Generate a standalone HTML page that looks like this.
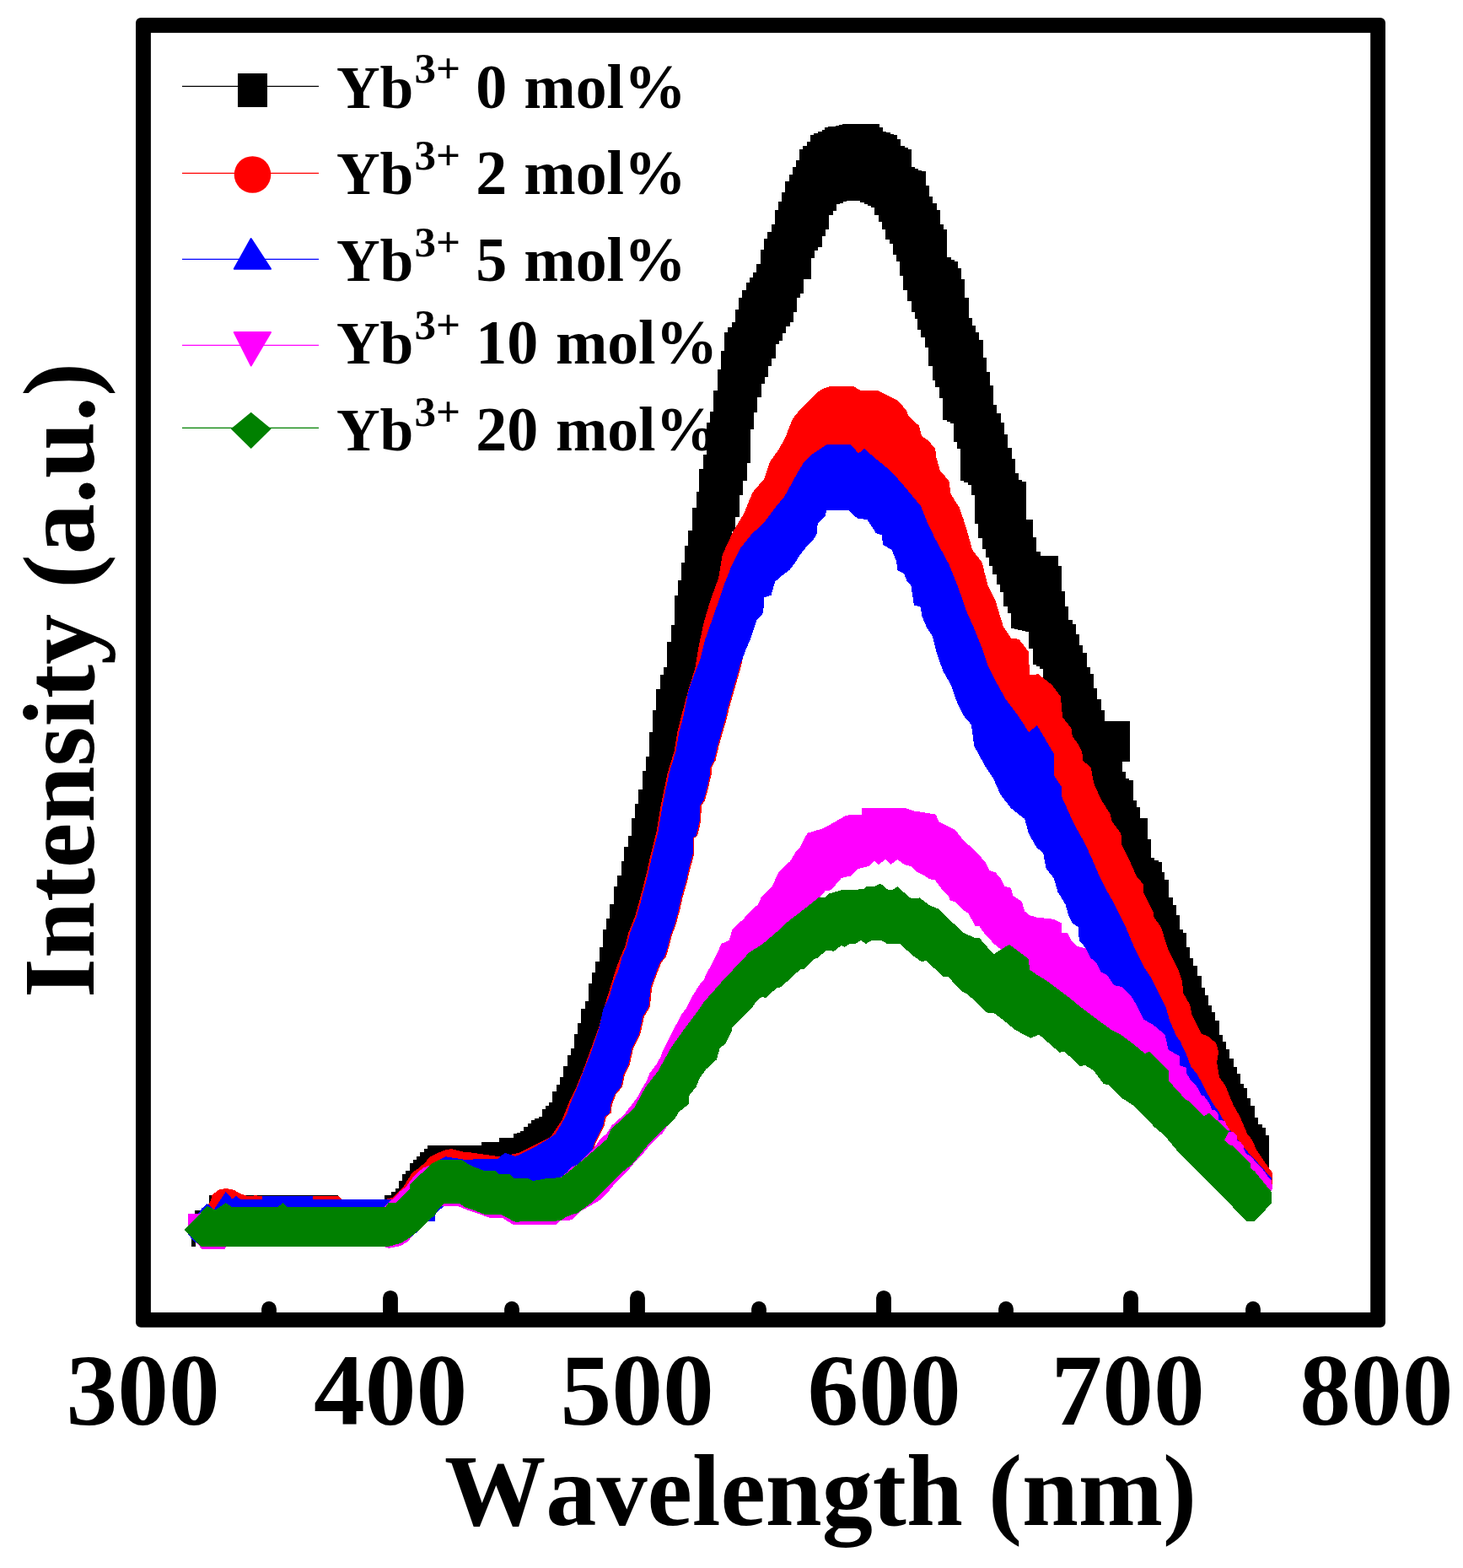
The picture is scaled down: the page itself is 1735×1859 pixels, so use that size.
<!DOCTYPE html>
<html><head><meta charset="utf-8">
<style>
html,body{margin:0;padding:0;background:#fff;}
svg{display:block;}
text{font-family:"Liberation Serif","Times New Roman",serif;font-weight:bold;fill:#000;font-kerning:none;font-feature-settings:"kern" 0;}
</style></head>
<body>
<svg width="1735" height="1859" viewBox="0 0 1735 1859">
<rect x="0" y="0" width="1735" height="1859" fill="#fff"/>
<!-- frame -->
<rect x="161" y="21" width="1482" height="1552.8" rx="6" fill="#000"/>
<rect x="178.9" y="38.9" width="1446.3" height="1517.1" fill="#fff"/>
<g id="curves" shape-rendering="crispEdges">
<path fill="#000000" d="M227,1478 L227,1445 L231,1445 L231,1435 L248,1435 L248,1417.3 L401.4,1417.3 L401.4,1424 L455.9,1424 L456.1,1417.3 L464.4,1417.3 L464.4,1413.1 L469,1413.1 L469,1409 L473.2,1409 L473.2,1400.2 L477.1,1400.2 L477.1,1391.9 L481.3,1391.9 L481.3,1387.9 L486.2,1387.9 L486.2,1379.2 L490.1,1379.2 L490.1,1375.1 L494,1375.1 L494,1370.9 L498.1,1370.9 L498.1,1365.9 L503,1365.9 L503,1362 L507.1,1362 L507.1,1358.2 L570.9,1358.2 L570.9,1354 L592,1354 L592,1349.1 L609.1,1349.1 L609.1,1345 L609.1,1343.8 L613.1,1343.8 L613.1,1342.6 L617.1,1342.6 L617.1,1341.4 L621.1,1341.4 L621.1,1336.3 L625.7,1336.3 L625.7,1332.1 L629.8,1332.1 L629.8,1328 L634.4,1328 L634.4,1326 L638.7,1326 L638.7,1324.1 L643,1324.1 L643,1314.8 L647.1,1314.8 L647.1,1311.4 L650.6,1311.4 L650.6,1306.8 L655.2,1306.8 L655.2,1294.1 L659.8,1294.1 L659.8,1286 L663.9,1286 L663.9,1276.8 L667.9,1276.8 L667.9,1264.1 L672.5,1264.1 L672.5,1251.4 L677.1,1251.4 L677.1,1243.4 L681,1243.4 L681,1226.1 L685.2,1226.1 L685.2,1212.7 L689.3,1212.7 L689.3,1196.1 L693.9,1196.1 L693.9,1186.9 L697.8,1186.9 L697.8,1166.1 L702.4,1166.1 L702.4,1153.4 L706.1,1153.4 L706.1,1139.9 L711.4,1139.9 L711.4,1123 L715.2,1123 L715.2,1102.1 L719.1,1102.1 L719.1,1088.9 L723.4,1088.9 L723.4,1072.1 L728.2,1072.1 L728.2,1051.2 L732.3,1051.2 L732.3,1038.2 L736.5,1038.2 L736.5,1020.8 L740.4,1020.8 L740.4,1003.9 L745.3,1003.9 L745.3,991.1 L749.1,991.1 L749.1,970 L753,970 L753,953 L757.3,953 L757.3,936.1 L762.3,936.1 L762.3,914.3 L766.2,914.3 L766.2,897.2 L770.4,897.2 L770.4,868.2 L774.3,868.2 L774.3,842.2 L778.2,842.2 L778.2,816.5 L783,816.5 L783,800 L787.3,800 L787.3,791.2 L791.1,791.2 L791.1,761.2 L795.7,761.2 L795.7,740.5 L800.3,740.5 L800.3,705.9 L804.2,705.9 L804.2,687.5 L808.4,687.5 L808.4,666.7 L812.3,666.7 L812.3,647.1 L816.4,647.1 L816.4,628.7 L821,628.7 L821,602.2 L825.6,602.2 L825.6,582.6 L829.1,582.6 L829.1,556 L833.7,556 L833.7,538.8 L838.3,538.8 L838.3,501.2 L842.2,501.2 L842.2,488 L846.4,488 L846.4,463.1 L851,463.1 L851,437.8 L854.6,437.8 L854.6,415.9 L858.9,415.9 L858.9,394 L863.1,394 L863.1,388.2 L867.5,388.2 L867.5,382.4 L871.9,382.4 L871.9,367.4 L876,367.4 L876,352.5 L880,352.5 L880,343.9 L884.6,343.9 L884.6,335.2 L889.2,335.2 L889.2,328.9 L893.2,328.9 L893.2,322.5 L897.3,322.5 L897.3,313.3 L901.9,313.3 L901.9,296 L906,296 L906,283.3 L910.4,283.3 L910.4,274.6 L914.8,274.6 L914.8,266 L919.2,266 L919.2,249.2 L923.3,249.2 L923.3,238.6 L927.2,238.6 L927.2,228 L931.2,228 L931.2,215.3 L936,215.3 L936,207.2 L939.9,207.2 L939.9,198 L944,198 L944,190.4 L948,190.4 L948,177.3 L952.1,177.3 L952.1,173.1 L957.2,173.1 L957.2,168 L961.1,168 L961.1,160 L965.3,160 L965.3,157.9 L969.9,157.9 L969.9,155.8 L974.5,155.8 L974.5,153.5 L978.3,153.5 L978.3,151.2 L982.1,151.2 L982.1,150.4 L986.3,150.4 L986.3,149.6 L990.6,149.6 L990.6,148.9 L994.8,148.9 L994.8,148.1 L999.1,148.1 L999.1,147.3 L1003.3,147.3 L1037.9,147.3 L1043,147.3 L1043,151.2 L1047,151.2 L1047,155.8 L1051.3,155.8 L1051.3,157.2 L1055.5,157.2 L1055.5,158.6 L1059.8,158.6 L1059.8,160 L1064,160 L1064,164.6 L1067.9,164.6 L1067.9,173.1 L1072.5,173.1 L1072.5,175.2 L1077.1,175.2 L1077.1,177.3 L1080.5,177.3 L1080.5,198 L1084.6,198 L1084.6,199.8 L1088.7,199.8 L1088.7,201.5 L1092.8,201.5 L1092.8,203.3 L1097.8,203.3 L1097.8,220 L1101.8,220 L1101.8,232.6 L1105.9,232.6 L1105.9,241.1 L1110.5,241.1 L1110.5,249.2 L1114.7,249.2 L1114.7,266 L1118.8,266 L1118.8,271.8 L1123.2,271.8 L1123.2,279.2 L1123.2,305.2 L1127.5,305.2 L1127.5,307.5 L1131.7,307.5 L1131.7,309.8 L1135.9,309.8 L1135.9,317.9 L1139.8,317.9 L1139.8,330.6 L1143.9,330.6 L1143.9,352.5 L1148.6,352.5 L1148.6,377.1 L1153.2,377.1 L1153.2,385.9 L1157.1,385.9 L1157.1,394 L1161.2,394 L1161.2,403.2 L1165.8,403.2 L1165.8,423.9 L1169.8,423.9 L1169.8,441.2 L1173.9,441.2 L1173.9,457.4 L1177.8,457.4 L1177.8,479.7 L1182.2,479.7 L1182.2,490.4 L1186.6,490.4 L1186.6,501.2 L1190.6,501.2 L1190.6,514.6 L1194.5,514.6 L1194.5,530.7 L1199.6,530.7 L1199.6,544.1 L1203.7,544.1 L1203.7,561.1 L1207.7,561.1 L1207.7,569.2 L1212.3,569.2 L1212.3,571.2 L1216.9,571.2 L1216.9,573.3 L1216.9,616 L1225,616 L1225,637.2 L1229.1,637.2 L1229.1,654 L1233.7,654 L1233.7,659.1 L1251,659.1 L1254.9,659.1 L1254.9,671.3 L1259.1,671.3 L1259.1,680.5 L1259.1,701.3 L1263,701.3 L1263,718.6 L1267.1,718.6 L1267.1,735.2 L1271.8,735.2 L1271.8,740 L1276.4,740 L1276.4,752 L1280.3,752 L1280.3,765.4 L1284.4,765.4 L1284.4,773.9 L1289,773.9 L1289,791.2 L1293,791.2 L1293,799.3 L1297.1,799.3 L1297.1,816.1 L1301,816.1 L1301,829.3 L1305.7,829.3 L1305.7,841.9 L1309.8,841.9 L1309.8,854.6 L1339.8,854.6 L1339.8,903 L1330.5,903 L1330.5,914.6 L1334.7,914.6 L1334.7,923 L1339.3,923 L1339.3,925.1 L1343.9,925.1 L1343.9,927.2 L1343.9,949.1 L1347.8,949.1 L1347.8,957.2 L1352,957.2 L1352,969.9 L1360.5,969.9 L1360.5,995.2 L1364.7,995.2 L1364.7,1017.1 L1369.2,1017.1 L1369.2,1019.5 L1373.7,1019.5 L1373.7,1021.8 L1377.8,1021.8 L1377.8,1034.4 L1381.3,1034.4 L1381.3,1042.5 L1385.9,1042.5 L1385.9,1064.4 L1390.5,1064.4 L1390.5,1072.5 L1394.6,1072.5 L1394.6,1085.2 L1399,1085.2 L1399,1102 L1402.7,1102 L1402.7,1105.9 L1407.3,1105.9 L1407.3,1123.2 L1411.2,1123.2 L1411.2,1135.9 L1415.4,1135.9 L1415.4,1145.1 L1420,1145.1 L1420,1156.6 L1424.6,1156.6 L1424.6,1170.5 L1428.5,1170.5 L1428.5,1179.7 L1433.1,1179.7 L1433.1,1192.4 L1437.1,1192.4 L1437.1,1200.4 L1441.1,1200.4 L1441.1,1209.5 L1446.1,1209.5 L1446.1,1226.7 L1450.1,1226.7 L1450.1,1234.7 L1454.2,1234.7 L1454.2,1243.8 L1458.2,1243.8 L1458.2,1254.9 L1463.3,1254.9 L1463.3,1265 L1467.3,1265 L1467.3,1273.1 L1471.3,1273.1 L1471.3,1285.2 L1475.4,1285.2 L1475.4,1290.2 L1479.4,1290.2 L1479.4,1302.3 L1483.4,1302.3 L1483.4,1311.4 L1487.5,1311.4 L1487.5,1324.5 L1491.5,1324.5 L1491.5,1332.6 L1496.5,1332.6 L1496.5,1336.6 L1500.6,1336.6 L1500.6,1345.7 L1504.6,1345.7 L1504.6,1354.8 L1504.6,1382 L1504.6,1386 L1500.6,1386 L1500.6,1388 L1497.1,1388 L1497.1,1390 L1493.5,1390 L1493.5,1392 L1490,1392 L1486,1392 L1486,1387.6 L1482,1387.6 L1482,1383.2 L1478,1383.2 L1478,1378.8 L1474,1378.8 L1474,1374.4 L1470,1374.4 L1470,1370 L1465.4,1370 L1465.4,1362 L1460.8,1362 L1460.8,1354 L1456.2,1354 L1456.2,1346 L1451.6,1346 L1451.6,1338 L1447,1338 L1447,1330 L1442.8,1330 L1442.8,1322 L1438.6,1322 L1438.6,1314 L1434.4,1314 L1434.4,1306 L1430.2,1306 L1430.2,1298 L1426,1298 L1426,1290 L1421.3,1290 L1421.3,1281 L1416.7,1281 L1416.7,1272 L1412,1272 L1412,1263 L1408,1263 L1408,1253.7 L1404,1253.7 L1404,1244.3 L1400,1244.3 L1400,1235 L1395.7,1235 L1395.7,1226.7 L1391.3,1226.7 L1391.3,1218.3 L1387,1218.3 L1387,1210 L1383,1210 L1383,1201.7 L1379,1201.7 L1379,1193.3 L1375,1193.3 L1375,1185 L1371.2,1185 L1371.2,1178.2 L1367.5,1178.2 L1367.5,1171.5 L1363.8,1171.5 L1363.8,1164.8 L1360,1164.8 L1360,1158 L1356.2,1158 L1356.2,1150.5 L1352.5,1150.5 L1352.5,1143 L1348.8,1143 L1348.8,1135.5 L1345,1135.5 L1345,1128 L1341.2,1128 L1341.2,1119.5 L1337.5,1119.5 L1337.5,1111 L1333.8,1111 L1333.8,1102.5 L1330,1102.5 L1330,1094 L1326.2,1094 L1326.2,1086.8 L1322.5,1086.8 L1322.5,1079.5 L1318.8,1079.5 L1318.8,1072.2 L1315,1072.2 L1315,1065 L1311.2,1065 L1311.2,1057.5 L1307.5,1057.5 L1307.5,1050 L1303.8,1050 L1303.8,1042.5 L1300,1042.5 L1300,1035 L1296.2,1035 L1296.2,1026.2 L1292.5,1026.2 L1292.5,1017.5 L1288.8,1017.5 L1288.8,1008.8 L1285,1008.8 L1285,1000 L1280.8,1000 L1280.8,992 L1276.5,992 L1276.5,984 L1272.2,984 L1272.2,976 L1268,976 L1268,968 L1263.7,968 L1263.7,957 L1259.3,957 L1259.3,946 L1255,946 L1255,935 L1250,935 L1250,905 L1245,905 L1245,880 L1241.5,880 L1241.5,860 L1238,860 L1238,840 L1237.2,840 L1237.2,792.8 L1232.9,792.8 L1232.9,790.3 L1228.6,790.3 L1228.6,787.8 L1224.5,787.8 L1224.5,769.3 L1219.9,769.3 L1219.9,749 L1215.7,749 L1215.7,748 L1211.5,748 L1211.5,747 L1207.3,747 L1207.3,746.1 L1203.1,746.1 L1203.1,745.1 L1198.7,745.1 L1198.7,727.4 L1194.5,727.4 L1194.5,718.6 L1189.9,718.6 L1189.9,701.8 L1186,701.8 L1186,693.2 L1181.8,693.2 L1181.8,680.5 L1177.2,680.5 L1177.2,671.3 L1173.2,671.3 L1173.2,661.3 L1169.2,661.3 L1169.2,651.3 L1165,651.3 L1165,637.9 L1160.4,637.9 L1160.4,621.1 L1156,621.1 L1156,609.1 L1156,587.2 L1151.9,587.2 L1151.9,574.5 L1147.5,574.5 L1147.5,572.2 L1143.1,572.2 L1143.1,569.9 L1138.7,569.9 L1138.7,553.1 L1138.7,531.8 L1134.6,531.8 L1134.6,523.8 L1130.7,523.8 L1130.7,501.9 L1126.7,501.9 L1126.7,499.8 L1122.7,499.8 L1122.7,497.7 L1118.1,497.7 L1118.1,471.9 L1114,471.9 L1114,458.5 L1109.4,458.5 L1109.4,450.5 L1105.5,450.5 L1105.5,433.9 L1101.3,433.9 L1101.3,411.7 L1097.1,411.7 L1097.1,399.7 L1092.1,399.7 L1092.1,390.5 L1088.2,390.5 L1088.2,377.8 L1084.5,377.8 L1084.5,369.8 L1080.5,369.8 L1080.5,356.9 L1076.4,356.9 L1076.4,344 L1071.3,344 L1071.3,327.1 L1067.2,327.1 L1067.2,309.8 L1063.3,309.8 L1063.3,301.8 L1059.1,301.8 L1059.1,289.1 L1054.5,289.1 L1054.5,284 L1049.9,284 L1049.9,271.8 L1046,271.8 L1046,263 L1041.8,263 L1041.8,254.5 L1036.7,254.5 L1036.7,246 L1032.9,246 L1032.9,243.9 L1029.1,243.9 L1029.1,241.8 L1024.5,241.8 L1024.5,239.9 L1019.9,239.9 L1019.9,237.9 L1004,237.9 L1004,239.4 L1000.1,239.4 L1000.1,240.8 L996.1,240.8 L996.1,242.3 L992.2,242.3 L992.2,249.9 L987.6,249.9 L987.6,255 L983,255 L983,271.8 L979.1,271.8 L979.1,279.9 L975,279.9 L975,292.5 L970.3,292.5 L970.3,296.5 L966.4,296.5 L966.4,305.7 L962.3,305.7 L962.3,330.6 L953.1,330.6 L953.1,347.9 L949.1,347.9 L949.1,352.5 L945,352.5 L945,369.8 L941.1,369.8 L941.1,382.4 L936.9,382.4 L936.9,386.6 L932.3,386.6 L932.3,395.1 L927.9,395.1 L927.9,403.9 L923.8,403.9 L923.8,407.8 L919.9,407.8 L919.9,424.6 L915.2,424.6 L915.2,433.9 L911.1,433.9 L911.1,447 L907.2,447 L907.2,454.6 L903,454.6 L903,471.2 L898,471.2 L898,488.5 L893.8,488.5 L893.8,509.3 L889.7,509.3 L889.7,549.1 L886.1,549.1 L886.1,569.9 L881,569.9 L881,586.5 L876.8,586.5 L876.8,613 L872.2,613 L872.2,629.8 L868.3,629.8 L868.3,642.5 L863.7,642.5 L863.7,654 L859.5,654 L859.5,672 L854.8,672 L854.8,690 L850,690 L850,705 L846,705 L846,720 L842,720 L842,740 L838.5,740 L838.5,760 L835,760 L835,780 L830.5,780 L830.5,800 L826,800 L826,815 L822,815 L822,830 L818,830 L818,845 L814,845 L814,862.5 L809.5,862.5 L809.5,880 L805,880 L805,897.5 L801,897.5 L801,915 L797,915 L797,935 L792.5,935 L792.5,955 L788,955 L788,972.5 L784,972.5 L784,990 L780,990 L780,1005 L776,1005 L776,1020 L772,1020 L772,1035 L768.5,1035 L768.5,1050 L765,1050 L765,1065 L761,1065 L761,1080 L757,1080 L757,1095 L752.5,1095 L752.5,1110 L748,1110 L748,1125 L744,1125 L744,1140 L740,1140 L740,1152.5 L736.5,1152.5 L736.5,1165 L733,1165 L733,1180 L729,1180 L729,1195 L725,1195 L725,1210 L720.5,1210 L720.5,1225 L716,1225 L716,1237.5 L711.5,1237.5 L711.5,1250 L707,1250 L707,1262.5 L702,1262.5 L702,1275 L697,1275 L697,1287.5 L692.5,1287.5 L692.5,1300 L688,1300 L688,1310 L684,1310 L684,1320 L680,1320 L680,1328.3 L676,1328.3 L676,1336.7 L672,1336.7 L672,1345 L668,1345 L668,1350 L663.5,1350 L663.5,1355 L659,1355 L659,1360 L654.5,1360 L654.5,1365 L650,1365 L650,1367 L646,1367 L646,1369 L642,1369 L642,1371 L638,1371 L638,1373 L634,1373 L634,1375 L630,1375 L630,1376 L625.7,1376 L625.7,1377 L621.4,1377 L621.4,1378 L617.1,1378 L617.1,1379 L612.9,1379 L612.9,1380 L608.6,1380 L608.6,1381 L604.3,1381 L604.3,1382 L600,1382 L600,1382.2 L596,1382.2 L596,1382.4 L592,1382.4 L592,1382.6 L588,1382.6 L588,1382.8 L584,1382.8 L584,1383 L580,1383 L580,1383.2 L576,1383.2 L576,1383.4 L572,1383.4 L572,1383.6 L568,1383.6 L568,1383.8 L564,1383.8 L564,1384 L560,1384 L560,1384.1 L555.7,1384.1 L555.7,1384.3 L551.4,1384.3 L551.4,1384.4 L547.1,1384.4 L547.1,1384.6 L542.9,1384.6 L542.9,1384.7 L538.6,1384.7 L538.6,1384.9 L534.3,1384.9 L534.3,1385 L530,1385 L530,1387.5 L526.2,1387.5 L526.2,1390 L522.5,1390 L522.5,1392.5 L518.8,1392.5 L518.8,1395 L515,1395 L515,1398.8 L511.2,1398.8 L511.2,1402.5 L507.5,1402.5 L507.5,1406.2 L503.8,1406.2 L503.8,1410 L500,1410 L500,1415 L496.2,1415 L496.2,1420 L492.5,1420 L492.5,1425 L488.8,1425 L488.8,1430 L485,1430 L485,1432.5 L481.2,1432.5 L481.2,1435 L477.5,1435 L477.5,1437.5 L473.8,1437.5 L473.8,1440 L470,1440 L470,1440.7 L465.7,1440.7 L465.7,1441.4 L461.4,1441.4 L461.4,1442.1 L457.1,1442.1 L457.1,1442.9 L452.9,1442.9 L452.9,1443.6 L448.6,1443.6 L448.6,1444.3 L444.3,1444.3 L444.3,1445 L440,1445 L300,1445 L300,1445.4 L295.7,1445.4 L295.7,1445.7 L291.4,1445.7 L291.4,1446.1 L287.1,1446.1 L287.1,1446.4 L282.9,1446.4 L282.9,1446.8 L278.6,1446.8 L278.6,1447.1 L274.3,1447.1 L274.3,1447.5 L270,1447.5 L270,1447.9 L265.7,1447.9 L265.7,1448.2 L261.4,1448.2 L261.4,1448.6 L257.1,1448.6 L257.1,1448.9 L252.9,1448.9 L252.9,1449.3 L248.6,1449.3 L248.6,1449.6 L244.3,1449.6 L244.3,1450 L240,1450 L240,1460 L236,1460 L236,1470 L232,1470 L232,1478 L227,1478 Z"/>
<path fill="#ff0000" d="M227.7,1469.7 L231,1445 L240,1434 L248.9,1426.1 L251.9,1416.1 L260.5,1410 L269.1,1409 L277.8,1410.9 L284.7,1415.2 L294,1418.3 L303.4,1417.3 L311.2,1418.3 L320,1418 L401.4,1418.3 L405.3,1422.2 L450,1424 L465,1420 L472,1413 L477.7,1408.2 L483.4,1399 L489.2,1389.8 L496.1,1385.2 L504.2,1378.2 L509.9,1371.3 L516.9,1367.9 L528.4,1363.3 L535.3,1362.1 L549.1,1365.6 L560.7,1366.7 L592.9,1371.3 L616,1366.7 L634.4,1357.5 L652.9,1348.3 L666.7,1327.5 L674.8,1306.8 L682.8,1290.6 L692.1,1267.6 L701.3,1242.2 L710.5,1216.9 L717.4,1191.5 L724.4,1168.4 L730.1,1150 L735.6,1135 L741.4,1121.5 L745.3,1106 L753,1086.6 L757.9,1069.2 L765.6,1040.1 L770.4,1018.8 L778.2,987.8 L783,958.8 L786.9,939.4 L791.7,916.2 L799.5,891 L803.4,867.8 L809.2,844.5 L816.9,815.5 L822,800 L824.5,791.2 L829.1,763.6 L834.9,737 L842.9,710.5 L852.2,685.2 L856.8,657.5 L869.5,629.8 L882.1,609.1 L892.5,583.7 L906.3,567.6 L913.3,546.8 L923.6,533 L931.8,517.3 L940,496.6 L943.4,492 L951.4,482.7 L967.6,466.6 L975.6,460.8 L984.9,457.8 L1011.4,457.8 L1020.6,462.7 L1040.2,462.7 L1050.6,467.8 L1064.4,474.7 L1074.8,486.2 L1077.1,493.1 L1089.8,504.6 L1093.2,517.3 L1100,521.5 L1109.2,531.8 L1110.4,542.2 L1115,558.4 L1125.4,569.9 L1127.7,586 L1138,602.2 L1142.7,616 L1148.4,634.4 L1153,651.7 L1164.6,666.7 L1168,680.5 L1171.5,694.4 L1180.7,712.8 L1189.9,742.8 L1199.1,756.6 L1208.4,757.8 L1219.9,772.8 L1221,800.4 L1231.4,799.3 L1247.5,812 L1257.9,825.8 L1260,850 L1270.6,863.8 L1271.8,873.1 L1278.7,882.3 L1283.3,891.5 L1284.4,901.9 L1293.7,909.9 L1297.1,928.4 L1305.2,946.8 L1316.7,965.3 L1319,974.5 L1329.4,988.3 L1330.5,1002.2 L1339.8,1020.6 L1347.8,1039 L1355.9,1048.3 L1355.9,1057.5 L1367.4,1080.5 L1368.6,1087.5 L1376.7,1099 L1385.9,1126.7 L1397.4,1149.7 L1402,1163.5 L1403.2,1177.4 L1411.2,1191.2 L1413.5,1202.7 L1425.1,1225.8 L1432,1228.1 L1442.1,1236.7 L1445.1,1246.8 L1443.1,1259.9 L1446.1,1277.1 L1453.2,1287.2 L1462.3,1309.4 L1470.3,1323.5 L1479.4,1344.7 L1484.4,1350.7 L1490.5,1363.8 L1498.6,1375.9 L1508.7,1390.1 L1508.7,1404 L1500,1415 L1480,1395 L1460,1375 L1440,1355 L1420,1335 L1400,1310 L1380,1290 L1360,1265 L1340,1240 L1320,1210 L1300,1160 L1291.4,1133.6 L1287.9,1124.3 L1279.8,1115.1 L1278.7,1099 L1271.8,1094.4 L1267.1,1085.2 L1263.7,1072.5 L1254.5,1057.5 L1249.9,1041.4 L1240.6,1029.8 L1237.2,1011.4 L1229.1,1004.5 L1219.9,988.3 L1215.3,971 L1199.1,958.4 L1186.5,942.2 L1178.4,923.8 L1169.2,909.9 L1155.3,884.6 L1151.9,859.2 L1143.8,850 L1136.9,837.3 L1132.3,825.8 L1127.7,812 L1118.4,795.8 L1110.4,772.8 L1105.8,754.3 L1099,744 L1093.1,730.1 L1091.9,719.7 L1083.9,717.4 L1080.4,694.4 L1075.8,689.8 L1072.3,680.5 L1064.3,675.9 L1063.1,665.6 L1057.4,651.7 L1047,646 L1045.8,634.4 L1038.9,632.1 L1028.5,616 L1017,614.8 L1005.5,604.5 L980.1,604.5 L979,611.4 L969.7,620.6 L968.6,633.3 L965.1,639 L958.2,646 L949,657.5 L943.2,666.7 L936.3,675.9 L927.1,682.8 L919,689.8 L914.4,705.9 L906.3,708.2 L905.2,726.7 L897.1,735.9 L892.5,749.7 L889,760.1 L884.4,770.5 L881,779.7 L879,788.9 L876,800.4 L872.5,812 L868.8,825.2 L864.9,838.7 L861,855.2 L857.2,867.8 L852.3,885.2 L848.5,901.7 L843.6,910.4 L843.6,918.1 L839.7,935.6 L835.9,949.1 L832,954.9 L831,974.3 L827.1,990.7 L823.3,993.6 L823.3,1012.1 L818.4,1030.4 L814.5,1046.9 L809.7,1063.4 L805.8,1080.8 L801,1098.2 L797.1,1107.9 L793.2,1123.4 L789.4,1135 L784.5,1140.8 L780.7,1150 L773.1,1170.7 L770.8,1193.8 L763.9,1205.3 L759.3,1226.1 L751.2,1242.2 L746.6,1263 L740.8,1274.5 L738.1,1288.3 L730.5,1297.5 L725.9,1309.1 L724.7,1319.5 L718.9,1324.1 L716.6,1334.4 L712,1343.7 L707.4,1352.9 L703.9,1363.3 L700.5,1369 L690,1390 L671.3,1400 L646,1408 L632.1,1408 L611.4,1405 L588.3,1397 L574.5,1396 L556.1,1388 L540,1405 L529.2,1427.1 L525.1,1431.3 L519.9,1435.4 L515.7,1440.6 L515.7,1447.9 L507.4,1447.9 L502.2,1453.1 L495,1460.3 L486,1468 L475,1474 L461.5,1477 L240,1477 L230,1472 Z"/>
<path fill="#0000ff" d="M223.2,1463.5 L227,1450 L239.6,1432.3 L245.8,1426.9 L253.6,1433.9 L267.6,1412.9 L275.4,1421.5 L280,1417.6 L284.7,1421.5 L311,1421.5 L311,1417.5 L371,1417.5 L371,1422 L464.6,1422.1 L470,1424 L490,1405 L505,1390 L516.9,1379.4 L521.5,1374.8 L528.4,1371.3 L551.4,1374.8 L590.6,1373.6 L598.7,1366.7 L611.4,1370.9 L616,1369 L634.4,1359.8 L646,1352.9 L658.6,1344.8 L671.3,1322.9 L677.1,1306.8 L684,1290.6 L692.1,1269.9 L701.3,1246.8 L710.5,1219.2 L715.1,1197.3 L723.2,1180 L727.8,1163.8 L733.6,1150 L737.6,1135 L743.4,1121.5 L747.3,1106 L755,1086.6 L759.9,1069.2 L767.6,1040.1 L772.4,1018.8 L780.2,987.8 L785,958.8 L788.9,939.4 L793.7,916.2 L801.5,891 L805.4,867.8 L810.4,850 L816.4,818.9 L822.2,802.7 L830.3,782 L836,758.9 L844.1,735.9 L852.2,712.8 L859.1,692.1 L868.3,669 L877.5,650.6 L891.4,633.3 L906.3,619.5 L919,602.2 L930.5,588.3 L944.4,563 L952.5,549.1 L962.8,538.8 L980.1,527.2 L1009,527.2 L1018.2,537.6 L1025.1,531.8 L1036.6,542.2 L1055,557.2 L1068.9,572.2 L1080.4,586 L1091.9,599.9 L1100,620 L1109.2,639 L1125.4,669 L1135.7,694.4 L1146.1,724.4 L1155.3,745.1 L1164.6,768.2 L1171.5,788.9 L1180.7,807.3 L1192.2,828.1 L1208.4,850 L1220,868 L1230,860 L1249.9,893.8 L1249.9,919.2 L1259.1,933 L1259.1,944.5 L1270.6,969.9 L1277.5,983.7 L1286.7,999.9 L1297.1,1022.9 L1304,1039 L1310.9,1052.9 L1321.3,1071.3 L1332.9,1094.4 L1339.8,1110.5 L1346.7,1126.7 L1355.9,1145.1 L1365.1,1158.9 L1374.3,1177.4 L1382.4,1193.5 L1387,1209.7 L1395.1,1228.1 L1399.7,1234.7 L1406.8,1250 L1412.4,1264.7 L1420.3,1274.3 L1429.4,1291.8 L1437.3,1306.5 L1445.2,1317.8 L1450.8,1327.9 L1458.7,1340.4 L1466,1349 L1480,1366 L1492,1379 L1500,1388 L1508.4,1397 L1508.4,1412 L1500,1415 L1480,1395 L1460,1375 L1440,1355 L1420,1335 L1400,1310 L1380,1290 L1360,1265 L1340,1240 L1320,1210 L1300,1160 L1291.4,1133.6 L1287.9,1124.3 L1279.8,1115.1 L1278.7,1099 L1271.8,1094.4 L1267.1,1085.2 L1263.7,1072.5 L1254.5,1057.5 L1249.9,1041.4 L1240.6,1029.8 L1237.2,1011.4 L1229.1,1004.5 L1219.9,988.3 L1215.3,971 L1199.1,958.4 L1186.5,942.2 L1178.4,923.8 L1169.2,909.9 L1155.3,884.6 L1151.9,859.2 L1143.8,850 L1136.9,837.3 L1132.3,825.8 L1127.7,812 L1118.4,795.8 L1110.4,772.8 L1105.8,754.3 L1099,744 L1093.1,730.1 L1091.9,719.7 L1083.9,717.4 L1080.4,694.4 L1075.8,689.8 L1072.3,680.5 L1064.3,675.9 L1063.1,665.6 L1057.4,651.7 L1047,646 L1045.8,634.4 L1038.9,632.1 L1028.5,616 L1017,614.8 L1005.5,604.5 L980.1,604.5 L979,611.4 L969.7,620.6 L968.6,633.3 L965.1,639 L958.2,646 L949,657.5 L943.2,666.7 L936.3,675.9 L927.1,682.8 L919,689.8 L914.4,705.9 L906.3,708.2 L905.2,726.7 L897.1,735.9 L892.5,749.7 L889,760.1 L884.4,770.5 L881,779.7 L877.5,788.9 L874.5,800.4 L871,812 L867.3,825.2 L863.4,838.7 L859.5,855.2 L855.7,867.8 L850.8,885.2 L847,901.7 L842.1,910.4 L842.1,918.1 L838.2,935.6 L834.4,949.1 L830.5,954.9 L829.5,974.3 L825.6,990.7 L821.8,993.6 L821.8,1012.1 L816.9,1030.4 L813,1046.9 L808.2,1063.4 L804.3,1080.8 L799.5,1098.2 L795.6,1107.9 L791.7,1123.4 L787.9,1135 L783,1140.8 L779.2,1150 L771.6,1170.7 L769.3,1193.8 L762.4,1205.3 L757.8,1226.1 L749.7,1242.2 L745.1,1263 L739.3,1274.5 L736.6,1288.3 L729,1297.5 L724.4,1309.1 L723.2,1319.5 L717.4,1324.1 L715.1,1334.4 L710.5,1343.7 L705.9,1352.9 L702.4,1363.3 L699,1369 L690,1390 L671.3,1400 L646,1408 L632.1,1408 L611.4,1405 L588.3,1397 L574.5,1396 L556.1,1388 L540,1405 L529.2,1427.1 L525.1,1431.3 L519.9,1435.4 L515.7,1440.6 L515.7,1447.9 L507.4,1447.9 L502.2,1453.1 L495,1460.3 L486,1468 L475,1474 L461.5,1477 L240,1477 L230,1472 Z"/>
<path fill="#ff00ff" d="M223.2,1446.4 L223.2,1439.4 L231,1439.4 L236.3,1438.6 L250,1434 L455,1432 L464.9,1422 L470.1,1417.8 L474.2,1412.6 L481.5,1407 L485.6,1401 L495,1390 L502.2,1384.5 L507.4,1382.5 L515,1382 L530,1380 L550,1382 L575,1393 L600,1398 L630,1405 L660,1400 L672.5,1389.8 L677.1,1384 L685.2,1380.5 L694.4,1371.3 L703.6,1362.1 L711.7,1350.6 L719.7,1343.7 L725.5,1334.4 L735.9,1325.2 L741.6,1319.5 L749.7,1309.1 L756.6,1299.9 L761.2,1290.6 L767,1281.4 L770.5,1272.2 L778.5,1261.8 L783.1,1253.7 L786.6,1244.5 L791.2,1235.3 L799.3,1219.2 L803.9,1211.1 L808.5,1201.9 L813.1,1196.5 L820.2,1182.4 L830.3,1166.3 L834.3,1162.3 L838.3,1153.2 L842.4,1146.1 L847.4,1136 L851.4,1128 L855.5,1118.9 L864.6,1114.8 L868.6,1101.7 L872.6,1097.7 L881.7,1089.6 L885.7,1084.6 L889.8,1080.6 L893.8,1076.5 L898.9,1072.5 L902.9,1063.4 L906.9,1059.4 L911,1055.3 L916,1050.3 L923.1,1034.2 L927.1,1030.1 L932.1,1025.1 L937.2,1021 L944.2,1008.9 L949.3,1003.9 L953.3,995.8 L957.4,987.8 L974.5,982.7 L982.6,978.7 L991.6,973.6 L1003.8,966.6 L1021.9,965.6 L1021.9,957.5 L1071.3,957.5 L1084.4,961.5 L1109.7,965.6 L1113.7,974.6 L1122.8,978.7 L1130.8,982.7 L1135.9,987.8 L1142.9,996.8 L1150,1002.9 L1161.1,1013.7 L1169.2,1022.9 L1173.8,1032.1 L1180.7,1034.4 L1186.5,1041.4 L1191.1,1050.6 L1199.1,1052.9 L1201.4,1062.1 L1211.8,1069 L1215.3,1080.5 L1221,1085.2 L1229.1,1087.5 L1249.9,1089.8 L1259.1,1094.4 L1259.1,1105.9 L1266,1105.9 L1270.6,1115.1 L1277.5,1122 L1287.9,1124.3 L1293.7,1135.9 L1300.6,1141.6 L1305.2,1152 L1313,1156.1 L1321,1168.2 L1331.1,1170.2 L1339.2,1178.2 L1344.2,1185.3 L1348.3,1192.4 L1356.3,1208.5 L1368.4,1215.6 L1381.6,1226.7 L1385.6,1244.8 L1398.7,1251.9 L1398.7,1263 L1406.8,1265.8 L1406.8,1271.5 L1411.3,1279.4 L1415.8,1283.9 L1420.3,1289.5 L1424.3,1298 L1428.2,1299.7 L1433.9,1307.6 L1437.3,1315.5 L1441.8,1316.6 L1445.2,1322.3 L1445.2,1327.9 L1453.1,1329 L1454.2,1333.6 L1457.6,1338.1 L1458.2,1341.5 L1462.1,1341.5 L1466.6,1346 L1466.6,1351.6 L1471.2,1353.9 L1474.5,1358.4 L1475.7,1364.1 L1479,1368.6 L1483.6,1370.9 L1489.2,1377.6 L1492,1381 L1496,1384.4 L1500.5,1390 L1505,1396.8 L1508.4,1400.2 L1508.7,1410.2 L1500,1420 L1480,1400 L1440,1360 L1400,1320 L1350,1275 L1300,1230 L1250,1185 L1220,1150 L1195,1130 L1185.3,1124.3 L1178.4,1118.6 L1166.9,1105.9 L1161.1,1097.8 L1156.5,1097.8 L1148.4,1082.8 L1142.9,1079.5 L1132.9,1069.5 L1126.8,1067.4 L1124.8,1062.4 L1117.7,1055.3 L1108.7,1043.2 L1102.6,1042.2 L1094.5,1037.2 L1086.5,1033.1 L1080.4,1027.1 L1072.3,1025.1 L1064.3,1019 L1056.2,1025.1 L1050.1,1019 L1042.1,1025.1 L1037,1021 L1030,1027.1 L1017.9,1030.1 L1009.8,1038.2 L997.7,1041.2 L985.6,1055.3 L978.5,1056.3 L973.5,1062.4 L960,1080 L930,1110 L900,1145 L870,1175 L850,1200 L830,1250 L810,1300 L795,1330 L785.4,1343.7 L772.8,1355.2 L762.4,1367.9 L754.3,1375.9 L745.1,1387.5 L735.9,1396.7 L729,1403.6 L719.7,1415.1 L712.8,1422 L699,1430.1 L688.6,1435.9 L678.2,1446.3 L664.4,1447.4 L659.8,1452 L609.1,1452 L601.8,1447.9 L595.6,1443.7 L580,1443.7 L569.7,1439.6 L554.1,1434.4 L543.7,1430.3 L523,1430.3 L521,1428 L516,1436 L507,1444 L498,1453 L492,1460 L484,1472 L475,1477 L461,1480 L455,1478 L270,1476 L266,1481.4 L239.6,1481.4 L223.2,1460 Z"/>
<path fill="#008000" d="M218.6,1458 L245.8,1430 L255.1,1434.7 L267.6,1426.1 L274.6,1430.8 L330,1430.8 L335.3,1426.1 L340.5,1430.8 L457.4,1430.8 L460.7,1426.1 L469,1426.1 L476.3,1418.8 L485.6,1409.5 L486.7,1403.3 L512.6,1379.4 L519.9,1375.3 L547.9,1375.3 L554.1,1379.4 L562.4,1383.6 L573.8,1387.7 L587.3,1387.7 L591.5,1391.9 L605,1392.4 L609.1,1396.5 L625.2,1396.7 L632.1,1400.1 L650.6,1396.7 L657.5,1396.7 L665.6,1395.5 L673.6,1389.8 L701.3,1366.7 L719.7,1350.6 L724.4,1339 L752,1313.7 L765.9,1288.3 L779.7,1271 L795.8,1242.2 L812,1219.2 L826.2,1200.6 L834.3,1188.5 L856.5,1163.3 L888.8,1129 L904.9,1118.9 L927.1,1099.7 L933.1,1093.7 L955.3,1076.5 L970.5,1064.4 L978.5,1064.4 L983.6,1059.4 L997.7,1055.3 L1023.9,1054.3 L1026.9,1051.3 L1037,1051.3 L1044.1,1047.3 L1052.2,1054.3 L1058.2,1055.3 L1064.3,1051.3 L1079.4,1064.4 L1086.5,1065.4 L1090.5,1064.4 L1102.6,1073.5 L1112.7,1077.5 L1123,1087.5 L1142.7,1105.9 L1155.3,1111.7 L1161.1,1111.7 L1178.4,1131.3 L1196.8,1119.7 L1219.9,1137 L1221,1149.7 L1230.3,1156.1 L1240.3,1162.1 L1256.5,1174.2 L1268.6,1183.3 L1284.7,1196.4 L1300.9,1208.5 L1319,1221.6 L1329.1,1226.7 L1345.3,1238.8 L1357.4,1248.9 L1363.4,1246.8 L1385.6,1269 L1385.6,1281.1 L1405.8,1303.3 L1411.3,1306.5 L1428.2,1323.4 L1433.9,1319.5 L1457.6,1341.5 L1452,1351.6 L1457.6,1357.3 L1461.6,1357.9 L1482.4,1378.8 L1483.6,1385.5 L1488.1,1388.9 L1508.4,1413.8 L1508.4,1426.2 L1488.1,1447.6 L1478.4,1447.6 L1395.7,1363.8 L1380.6,1345.7 L1369.5,1336.6 L1345.3,1311.4 L1331.1,1302.3 L1315,1286.2 L1308.9,1285.2 L1296.8,1269 L1286.7,1263 L1280.7,1264 L1262.5,1246.8 L1256.5,1247.8 L1232.3,1226.7 L1222.2,1230.7 L1212.1,1225.6 L1202.6,1220 L1188.8,1208.5 L1179.5,1201.6 L1170.3,1200.4 L1147.3,1178.5 L1140.3,1175.1 L1124.2,1157.8 L1118.4,1157.8 L1098.6,1139.1 L1092.5,1140.1 L1081.4,1132 L1067.3,1118.9 L1052.2,1118.9 L1045.1,1114.8 L1034,1114.8 L1026.9,1118.9 L1020.9,1114.8 L1014.9,1118.9 L1007.8,1118.9 L1001.7,1122.9 L997.7,1120.9 L988.6,1128 L984.6,1126.9 L979.5,1126.9 L969.5,1136 L965.4,1137 L953.3,1149.1 L949.3,1149.1 L926.1,1170.3 L921,1171.3 L907.9,1183.4 L903.9,1181.4 L895.8,1188.5 L892.8,1193.5 L867.6,1218.7 L867.6,1222.8 L860.5,1236.9 L853.5,1243 L850,1256.1 L837.3,1267.6 L829.3,1279.1 L825.8,1288.3 L816.6,1299.9 L816.6,1309.1 L805,1318.3 L800.4,1326.4 L786.6,1339 L768.2,1357.5 L749.7,1380.5 L740.5,1387.5 L726.7,1401.3 L710.5,1417.4 L703.6,1424.3 L685.2,1438.2 L680.5,1439.3 L671.3,1442.8 L664.4,1447.4 L611.4,1448.6 L609.1,1447.9 L593.5,1439.6 L573.8,1439.6 L562.4,1434.9 L550,1430.8 L545.8,1427.1 L526.1,1427.1 L520.9,1432.3 L515.7,1440.6 L507.4,1447.9 L498.1,1457.2 L494,1460.9 L483.6,1469.2 L475.3,1473.8 L460.7,1478 L238,1477.5 Z"/>
</g>

<!-- ticks -->
<g stroke="#000" stroke-width="17.8" stroke-linecap="round">
<line x1="463" y1="1560" x2="463" y2="1538.8"/>
<line x1="756" y1="1560" x2="756" y2="1538.8"/>
<line x1="1048" y1="1560" x2="1048" y2="1538.8"/>
<line x1="1341" y1="1560" x2="1341" y2="1538.8"/>
<line x1="319" y1="1560" x2="319" y2="1551.7"/>
<line x1="607" y1="1560" x2="607" y2="1551.7"/>
<line x1="900" y1="1560" x2="900" y2="1551.7"/>
<line x1="1193" y1="1560" x2="1193" y2="1551.7"/>
<line x1="1486" y1="1560" x2="1486" y2="1551.7"/>
</g>
<!-- tick labels -->
<g font-size="121.5" text-anchor="middle">
<text x="169.6" y="1689">300</text>
<text x="463" y="1689">400</text>
<text x="755.5" y="1689">500</text>
<text x="1048.5" y="1689">600</text>
<text x="1337.5" y="1689">700</text>
<text x="1632.4" y="1689">800</text>
</g>
<text x="527" y="1808" font-size="120.3">Wavelength (nm)</text>
<text transform="translate(111,1183) rotate(-90)" font-size="120.5">Intensity (a.u.)</text>
<!-- legend -->
<g stroke-width="1.2">
<line x1="216" y1="102.4" x2="378" y2="102.4" stroke="#000"/>
<line x1="216" y1="205.4" x2="378" y2="205.4" stroke="#f00"/>
<line x1="216" y1="307.4" x2="378" y2="307.4" stroke="#00f"/>
<line x1="216" y1="409.4" x2="378" y2="409.4" stroke="#f0f"/>
<line x1="216" y1="507.4" x2="378" y2="507.4" stroke="#008000"/>
</g>
<rect x="282" y="87" width="35" height="40" fill="#000"/>
<circle cx="299.5" cy="207" r="21.8" fill="#f00"/>
<path d="M297.7,283 L321,318.8 L277.8,318.8 Z" fill="#00f" stroke="#00f" stroke-width="2" stroke-linejoin="round"/>
<path d="M277.8,394 L321,394 L297.7,433.4 Z" fill="#f0f" stroke="#f0f" stroke-width="2" stroke-linejoin="round"/>
<path d="M297.7,488.7 L321.6,508.5 L297.7,532 L273.8,508.5 Z" fill="#008000"/>
<g>
<text x="398.9" y="127.9" font-size="71.5">Yb</text><text x="491.5" y="98.4" font-size="51" font-weight="normal">3+</text><text x="564.2" y="127.9" font-size="74">0</text><text x="621.3" y="127.9" font-size="73.7">mol%</text>
<text x="398.9" y="229.6" font-size="71.5">Yb</text><text x="491.5" y="200.5" font-size="51" font-weight="normal">3+</text><text x="564.2" y="229.6" font-size="74">2</text><text x="621.3" y="229.6" font-size="73.7">mol%</text>
<text x="398.9" y="333.1" font-size="71.5">Yb</text><text x="491.5" y="303.6" font-size="51" font-weight="normal">3+</text><text x="564.2" y="333.1" font-size="74">5</text><text x="621.3" y="333.1" font-size="73.7">mol%</text>
<text x="398.9" y="431.1" font-size="71.5">Yb</text><text x="491.5" y="401.6" font-size="51" font-weight="normal">3+</text><text x="564.2" y="431.1" font-size="74">10</text><text x="658.9" y="431.1" font-size="73.7">mol%</text>
<text x="398.9" y="534.2" font-size="71.5">Yb</text><text x="491.5" y="504.7" font-size="51" font-weight="normal">3+</text><text x="564.2" y="534.2" font-size="74">20</text><text x="658.9" y="534.2" font-size="73.7">mol%</text>
</g>
</svg>
</body></html>
